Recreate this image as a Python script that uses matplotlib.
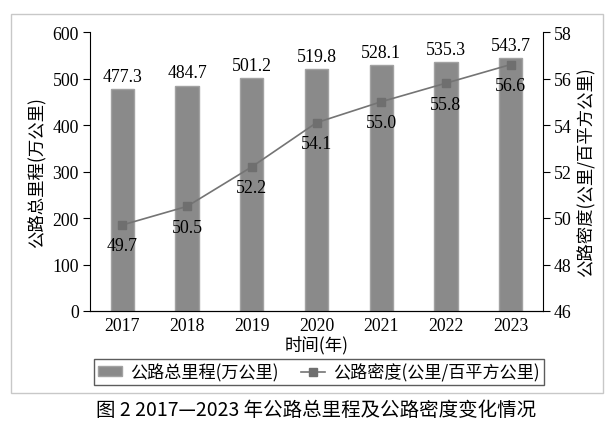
import numpy as np
import matplotlib
matplotlib.use("Agg")
import matplotlib.pyplot as plt
from matplotlib.patches import Rectangle, Patch
from matplotlib.lines import Line2D

# data
years = ["2017", "2018", "2019", "2020", "2021", "2022", "2023"]
mileage = [477.3, 484.7, 501.2, 519.8, 528.1, 535.3, 543.7]   # 万公里
density = [49.7, 50.5, 52.2, 54.1, 55.0, 55.8, 56.6]          # 公里/百平方公里

CN = ["Noto Sans CJK SC", "DejaVu Sans"]
NUM = "Liberation Serif"

W, H = 614, 427
fig = plt.figure(figsize=(W / 100, H / 100), dpi=100)
ax = fig.add_axes([90 / W, 1 - 312 / H, 453 / W, 279 / H])

x = np.arange(len(years))
ax.bar(x, mileage, width=0.36, color="#8a8a8a", edgecolor="#a2a2a2",
       linewidth=1.0, zorder=2)
for xi, v in zip(x, mileage):
    ax.annotate(f"{v:.1f}", (xi, v), xytext=(0, 3), textcoords="offset points",
                ha="center", va="bottom", fontfamily=NUM, fontsize=12.8)

ax.set_xlim(-0.5, 6.5)
ax.set_ylim(0, 600)
ax.set_yticks(range(0, 601, 100))
ax.set_xticks(x)
ax.set_xticklabels(years)
ax.spines["top"].set_visible(False)
ax.spines["right"].set_visible(False)
ax.tick_params(axis="y", direction="out", length=5, width=0.8, pad=3)
ax.tick_params(axis="x", length=0, pad=4)
for lab in ax.get_xticklabels() + ax.get_yticklabels():
    lab.set_fontfamily(NUM)
    lab.set_fontsize(12.8)
ax.set_ylabel("公路总里程(万公里)", fontfamily=CN, fontsize=12.5, labelpad=4)
ax.set_xlabel("时间(年)", fontfamily=CN, fontsize=12.5, labelpad=1)

ax2 = ax.twinx()
ax2.plot(x, density, color="#747474", lw=1.2, marker="s", ms=6,
         mfc="#6f6f6f", mec="#6f6f6f", zorder=3)
for xi, v in zip(x, density):
    ax2.annotate(f"{v:.1f}", (xi, v), xytext=(0, -9), textcoords="offset points",
                 ha="center", va="top", fontfamily=NUM, fontsize=12.8)
ax2.set_ylim(46, 58)
ax2.set_yticks(range(46, 59, 2))
ax2.spines["top"].set_visible(False)
ax2.spines["left"].set_visible(False)
ax2.tick_params(axis="y", direction="out", length=5, width=0.8, pad=3)
for lab in ax2.get_yticklabels():
    lab.set_fontfamily(NUM)
    lab.set_fontsize(12.8)
ax2.set_ylabel("公路密度(公里/百平方公里)", fontfamily=CN, fontsize=12.5, labelpad=4)

# legend below the axes
handles = [
    Patch(facecolor="#8a8a8a", edgecolor="#a2a2a2", label="公路总里程(万公里)"),
    Line2D([0], [0], color="#747474", lw=1.2, marker="s", ms=6,
           mfc="#6f6f6f", mec="#6f6f6f", label="公路密度(公里/百平方公里)"),
]
leg = fig.legend(handles=handles, loc="center", bbox_to_anchor=(319 / W, 1 - 373 / H),
                 ncol=2, frameon=True, fancybox=False, handlelength=1.4,
                 handleheight=0.5, handletextpad=0.5, columnspacing=1.3,
                 borderpad=0.25, prop={"family": CN, "size": 12.3})
leg.get_frame().set_edgecolor("#333333")
leg.get_frame().set_linewidth(1.0)

# outer light frame
fig.patches.append(Rectangle((11 / W, 1 - 394 / H), 592 / W, 379 / H,
                             transform=fig.transFigure, fill=False,
                             edgecolor="#c8c8c8", lw=1.0))

fig.text(316 / W, 1 - 411 / H, "图 2 2017—2023 年公路总里程及公路密度变化情况",
         ha="center", va="center", fontfamily=CN, fontsize=14)

fig.savefig("out.png", dpi=100)
